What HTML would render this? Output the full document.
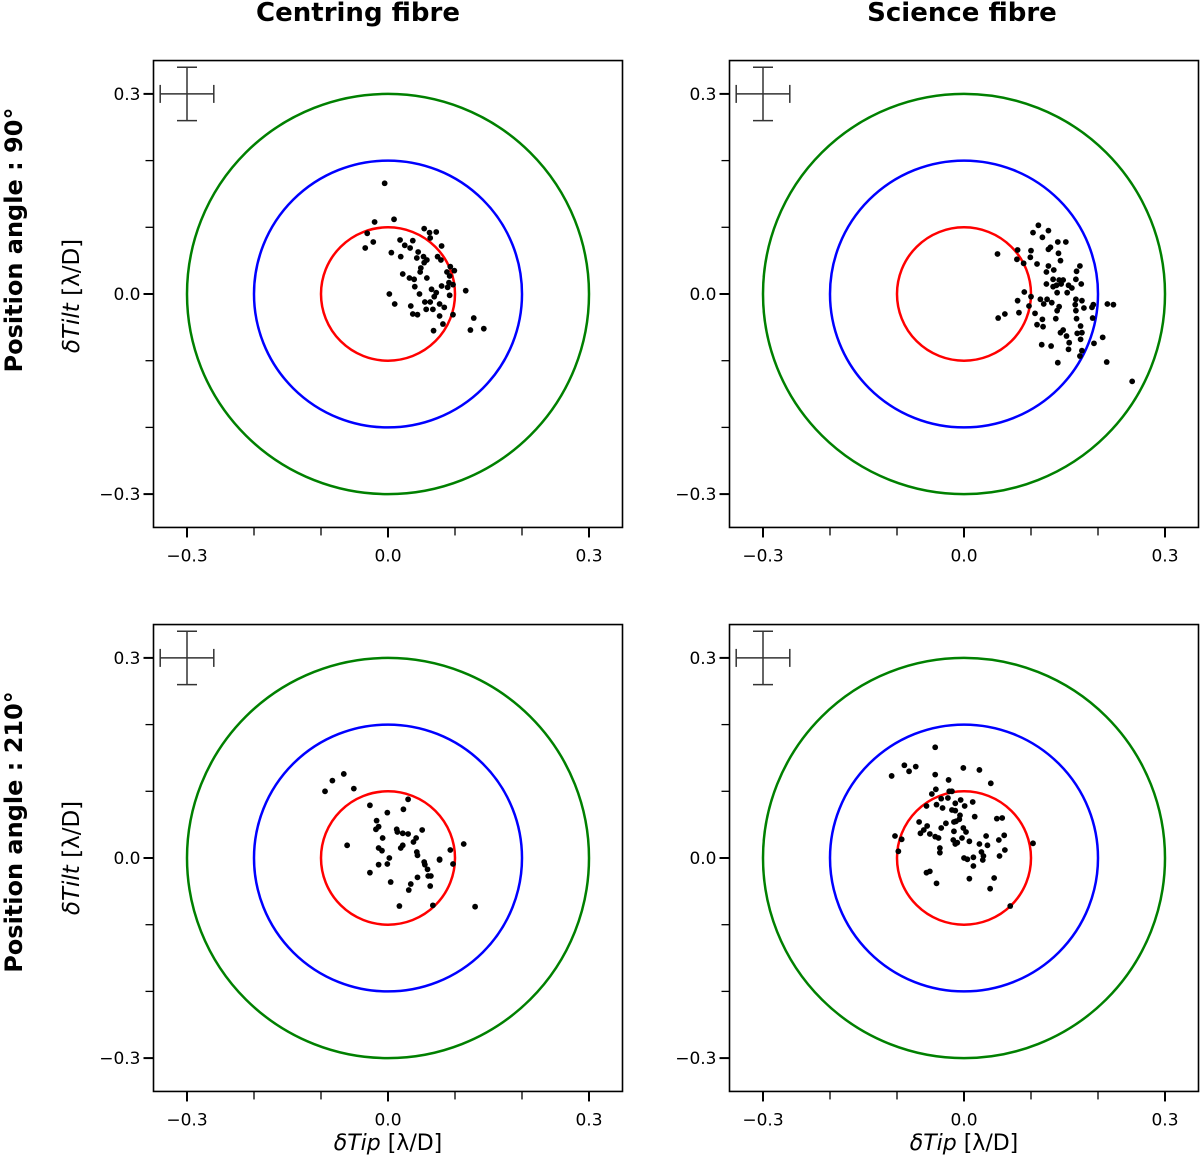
<!DOCTYPE html>
<html><head><meta charset="utf-8">
<style>
html,body{margin:0;padding:0;background:#fff;}
svg{display:block;font-family:"DejaVu Sans","Liberation Sans",sans-serif;}
</style></head>
<body>
<svg id="fig" width="1200" height="1157" viewBox="0 0 1200 1157" xmlns="http://www.w3.org/2000/svg">
<text x="358" y="21" font-size="26" font-weight="bold" text-anchor="middle">Centring fibre</text>
<text x="962" y="21" font-size="26" font-weight="bold" text-anchor="middle">Science fibre</text>
<text transform="translate(22,240) rotate(-90)" font-size="24" font-weight="bold" text-anchor="middle">Position angle : 90°</text>
<text transform="translate(22,832) rotate(-90)" font-size="24" font-weight="bold" text-anchor="middle">Position angle : 210°</text>
<text transform="translate(79,296) rotate(-90)" font-size="23" text-anchor="middle"><tspan font-style="italic">δTilt</tspan> [λ/D]</text>
<text transform="translate(79,858) rotate(-90)" font-size="23" text-anchor="middle"><tspan font-style="italic">δTilt</tspan> [λ/D]</text>
<text x="388" y="1150" font-size="22" text-anchor="middle"><tspan font-style="italic">δTip</tspan> [λ/D]</text>
<text x="964" y="1150" font-size="22" text-anchor="middle"><tspan font-style="italic">δTip</tspan> [λ/D]</text>
</svg>
<script>
const NS="http://www.w3.org/2000/svg";
const svg=document.getElementById('fig');
const radii=[0.1,0.2,0.3];
const ringColors=['#ff0000','#0000ff','#008000'];
const majorTicks=[-0.3,0,0.3];
const majorLabels=['\u22120.3','0.0','0.3'];
const minorTicks=[-0.2,-0.1,0.1,0.2];
const errX=0.04, errY=0.04;
const p1x=[-0.005,-0.020,0.009,-0.031,-0.022,-0.034,0.005,0.019,0.018,0.025,0.037,0.033,0.054,0.062,0.072,0.063,0.045,0.053,0.043,0.058,0.080,0.074,0.079,0.093,0.099,0.088,0.092,0.049,0.048,0.022,0.032,0.039,0.058,0.040,0.047,0.065,0.072,0.069,0.080,0.089,0.097,0.092,0.116,0.002,0.010,0.034,0.055,0.063,0.057,0.067,0.077,0.084,0.037,0.044,0.077,0.097,0.082,0.068,0.128,0.123,0.143,0.054,0.091];
const p1y=[0.166,0.108,0.112,0.091,0.078,0.069,0.062,0.056,0.081,0.073,0.080,0.069,0.098,0.092,0.093,0.084,0.063,0.056,0.054,0.051,0.072,0.056,0.051,0.041,0.035,0.033,0.027,0.039,0.033,0.030,0.024,0.022,0.024,0.011,0.000,0.007,0.002,-0.004,0.012,0.010,0.014,-0.002,0.005,0.000,-0.015,-0.018,-0.012,-0.012,-0.023,-0.023,-0.015,-0.020,-0.030,-0.031,-0.033,-0.031,-0.045,-0.055,-0.036,-0.054,-0.052,0.047,0.017];
const p2x=[0.111,0.103,0.126,0.117,0.140,0.152,0.050,0.080,0.079,0.100,0.099,0.089,0.126,0.129,0.141,0.144,0.109,0.126,0.123,0.134,0.173,0.168,0.167,0.175,0.133,0.142,0.148,0.123,0.133,0.138,0.145,0.156,0.161,0.154,0.139,0.090,0.100,0.080,0.114,0.119,0.124,0.131,0.142,0.167,0.176,0.166,0.179,0.191,0.193,0.214,0.223,0.167,0.139,0.097,0.082,0.106,0.061,0.051,0.117,0.137,0.168,0.192,0.109,0.118,0.174,0.148,0.144,0.169,0.176,0.153,0.174,0.157,0.207,0.194,0.116,0.130,0.156,0.176,0.173,0.140,0.213,0.251];
const p2y=[0.103,0.092,0.095,0.085,0.078,0.078,0.060,0.066,0.052,0.065,0.055,0.046,0.067,0.070,0.061,0.050,0.045,0.042,0.033,0.036,0.042,0.034,0.022,0.015,0.022,0.021,0.021,0.015,0.011,0.013,0.015,0.013,0.009,0.002,0.002,0.003,-0.004,-0.010,-0.008,-0.015,-0.008,-0.013,-0.019,-0.008,-0.010,-0.016,-0.021,-0.020,-0.016,-0.015,-0.016,-0.025,-0.025,-0.018,-0.028,-0.029,-0.030,-0.036,-0.038,-0.037,-0.037,-0.036,-0.046,-0.049,-0.048,-0.054,-0.058,-0.059,-0.058,-0.063,-0.068,-0.073,-0.065,-0.074,-0.076,-0.078,-0.083,-0.085,-0.093,-0.103,-0.102,-0.131];
const p3x=[-0.066,-0.083,-0.094,-0.051,-0.061,-0.027,0.030,0.023,-0.001,-0.017,-0.018,-0.014,0.013,0.014,0.022,0.030,0.051,0.042,0.038,-0.008,-0.014,-0.009,0.022,0.019,0.043,0.044,0.093,0.113,0.077,0.077,0.097,0.002,-0.001,-0.014,-0.027,0.054,0.055,0.059,0.060,0.064,0.044,0.004,0.034,0.063,0.031,0.017,0.067,0.130];
const p3y=[0.126,0.116,0.100,0.104,0.019,0.079,0.088,0.073,0.068,0.056,0.043,0.047,0.043,0.039,0.037,0.036,0.042,0.030,0.024,0.030,0.015,0.011,0.019,0.015,0.009,0.004,0.012,0.021,-0.002,-0.003,-0.009,0.000,-0.009,-0.010,-0.022,-0.006,-0.010,-0.017,-0.027,-0.027,-0.029,-0.036,-0.039,-0.042,-0.048,-0.072,-0.071,-0.073];
const p4x=[-0.043,-0.089,-0.082,-0.072,-0.108,-0.043,-0.001,0.023,-0.023,0.040,-0.042,-0.048,-0.022,-0.018,-0.034,-0.024,-0.056,-0.041,-0.032,-0.013,-0.005,0.001,0.013,-0.018,-0.013,-0.006,-0.007,-0.012,-0.015,-0.027,-0.067,-0.055,-0.060,-0.065,-0.034,-0.001,-0.015,0.003,0.016,0.049,0.057,-0.051,-0.043,-0.038,-0.003,-0.016,-0.010,-0.013,0.008,0.033,0.023,0.035,0.060,0.052,-0.103,-0.093,-0.098,-0.036,-0.036,0.026,0.029,0.000,0.005,0.014,0.028,0.061,0.053,0.103,0.014,-0.056,-0.051,-0.041,0.008,0.045,0.039,0.069];
const p4y=[0.166,0.139,0.130,0.137,0.123,0.125,0.135,0.132,0.117,0.112,0.103,0.096,0.100,0.100,0.089,0.090,0.078,0.080,0.075,0.082,0.087,0.078,0.084,0.072,0.071,0.064,0.058,0.055,0.054,0.052,0.054,0.048,0.042,0.037,0.045,0.045,0.040,0.039,0.062,0.059,0.060,0.036,0.032,0.030,0.030,0.027,0.023,0.021,0.025,0.033,0.021,0.019,0.034,0.027,0.033,0.028,0.010,0.015,0.008,0.009,0.003,0.000,-0.002,0.001,-0.003,0.012,0.003,0.022,-0.012,-0.022,-0.020,-0.038,-0.031,-0.030,-0.046,-0.072];
const panels=[
 {name:'centring-pa90',cx:388,cy:294,xs:p1x,ys:p1y},
 {name:'science-pa90',cx:964,cy:294,xs:p2x,ys:p2y},
 {name:'centring-pa210',cx:388,cy:858,xs:p3x,ys:p3y},
 {name:'science-pa210',cx:964,cy:858,xs:p4x,ys:p4y}
];
function mk(tag,attrs,parent){const e=document.createElementNS(NS,tag);for(const k in attrs)e.setAttribute(k,attrs[k]);(parent||svg).appendChild(e);return e;}
const SX=670, SY=667, LIM=0.35;
panels.forEach(p=>{
  const X=v=>p.cx+v*SX, Y=v=>p.cy-v*SY;
  const g=mk('g',{});
  
  
  radii.forEach((r,i)=>{
    const c=mk('ellipse',{cx:X(0),cy:Y(0),rx:r*SX,ry:r*SY,fill:'none',stroke:ringColors[i],'stroke-width':2.5},g);
    
    
  });
  p.xs.forEach((v,i)=>{
    const d=mk('circle',{cx:X(v),cy:Y(p.ys[i]),r:2.9,fill:'#000'},g);
    
    
  });
  const eg=mk('g',{stroke:'#333','stroke-width':1.5},g);
  
  
  const ex=-0.3, ey=0.3;
  mk('line',{x1:X(ex-errX),x2:X(ex+errX),y1:Y(ey),y2:Y(ey)},eg);
  mk('line',{x1:X(ex),x2:X(ex),y1:Y(ey-errY),y2:Y(ey+errY)},eg);
  mk('line',{x1:X(ex-errX),x2:X(ex-errX),y1:Y(ey)-9,y2:Y(ey)+9},eg);
  mk('line',{x1:X(ex+errX),x2:X(ex+errX),y1:Y(ey)-9,y2:Y(ey)+9},eg);
  mk('line',{x1:X(ex)-10,x2:X(ex)+10,y1:Y(ey-errY),y2:Y(ey-errY)},eg);
  mk('line',{x1:X(ex)-10,x2:X(ex)+10,y1:Y(ey+errY),y2:Y(ey+errY)},eg);
  const f=mk('rect',{x:X(-LIM),y:Y(LIM),width:2*LIM*SX,height:2*LIM*SY,fill:'none',stroke:'#000','stroke-width':1.6},g);
  
  
  const bot=Y(-LIM), left=X(-LIM);
  majorTicks.forEach((t,i)=>{
    mk('line',{x1:X(t),x2:X(t),y1:bot,y2:bot+10,stroke:'#000','stroke-width':2},g);
    mk('line',{x1:left,x2:left-10,y1:Y(t),y2:Y(t),stroke:'#000','stroke-width':2},g);
    const tx=mk('text',{x:X(t),y:bot+34,'font-size':17,'text-anchor':'middle'},g);
    tx.textContent=majorLabels[i];
    
    
    const ty=mk('text',{x:left-13,y:Y(t)+6,'font-size':17,'text-anchor':'end'},g);
    ty.textContent=majorLabels[i];
    
    
  });
  minorTicks.forEach(t=>{
    mk('line',{x1:X(t),x2:X(t),y1:bot,y2:bot+8,stroke:'#000','stroke-width':1.3},g);
    mk('line',{x1:left,x2:left-8,y1:Y(t),y2:Y(t),stroke:'#000','stroke-width':1.3},g);
  });
});
</script>
</body></html>
